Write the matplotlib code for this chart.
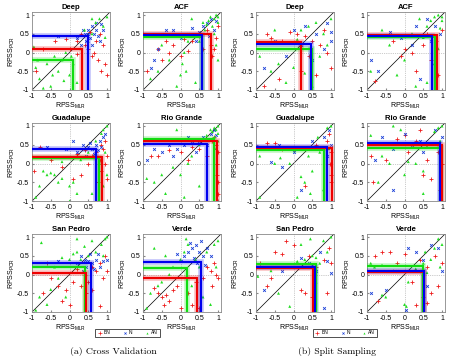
import numpy as np
import matplotlib
matplotlib.use("Agg")
import matplotlib.pyplot as plt
from matplotlib.lines import Line2D

plt.rcParams['font.family'] = ['Liberation Sans', 'DejaVu Sans']
plt.rcParams['mathtext.fontset'] = 'custom'
plt.rcParams['mathtext.rm'] = 'Liberation Sans'

basins = ["Deep", "ACF", "Guadalupe", "Rio Grande", "San Pedro", "Verde"]
cats = ["BN", "N", "AN"]

# ---- threshold lines (horizontal level on PCR, vertical level on MLR) ----
# cross validation
cv_lines = {
    "Deep":       {"BN": (0.10, 0.33), "N": (0.45, 0.50), "AN": (-0.20, 0.10)},
    "ACF":        {"BN": (0.50, 0.82), "N": (0.47, 0.58), "AN": (0.42, 0.56)},
    "Guadalupe":  {"BN": (0.18, 0.86), "N": (0.40, 0.70), "AN": (0.15, 0.78)},
    "Rio Grande": {"BN": (0.60, 0.97), "N": (0.53, 0.70), "AN": (0.65, 0.90)},
    "San Pedro":  {"BN": (0.03, 0.45), "N": (0.30, 0.57), "AN": (0.20, 0.40)},
    "Verde":      {"BN": (-0.10, 0.45), "N": (0.33, 0.55), "AN": (0.17, 0.17)},
}
# split sampling
ss_lines = {
    "Deep":       {"BN": (0.27, 0.21), "N": (0.24, 0.46), "AN": (0.09, 0.48)},
    "ACF":        {"BN": (0.46, 0.86), "N": (0.44, 0.74), "AN": (0.41, 0.80)},
    "Guadalupe":  {"BN": (0.42, 1.02), "N": (0.44, 0.88), "AN": (0.37, 0.82)},
    "Rio Grande": {"BN": (0.50, 1.00), "N": (0.54, 0.95), "AN": (0.42, 0.96)},
    "San Pedro":  {"BN": (0.18, 0.52), "N": (0.19, 0.57), "AN": (0.27, 0.60)},
    "Verde":      {"BN": (0.08, 0.53), "N": (0.10, 0.52), "AN": (0.23, 0.50)},
}

# ---- scatter points (RPSS_MLR, RPSS_PCR) ----
deep_cv_bn = [(0.2,0.3),(0.4,0.2),(0.5,0.1),(0.6,-0.1),(0.7,0.3),(0.8,0.5),(0.9,0.2),(0.95,-0.3),(1.0,-0.6),(0.85,-0.5),
              (0.3,0.5),(-0.1,0.35),(-0.4,0.3),(-0.7,0.1),(-0.9,-0.5),(0.0,0.1),(0.55,0.55),(0.65,0.0),(0.75,-0.2),(0.2,-0.05)]
deep_cv_n = [(0.4,0.5),(0.5,0.6),(0.6,0.7),(0.7,0.6),(0.75,0.45),(0.8,0.3),(0.55,0.4),(0.45,0.3),(0.65,0.5),(0.9,0.6),
             (0.35,0.6),(0.2,0.4),(-0.3,0.45),(0.85,0.75),(0.6,0.2),(0.5,0.5),(0.7,0.8),(0.3,0.2)]
deep_cv_an = [(-0.9,-0.4),(-0.8,-0.7),(-0.6,-0.3),(-0.5,-0.9),(-0.3,-0.5),(-0.2,-0.2),(0.0,-0.6),(0.1,-0.3),(-0.7,-0.95),
              (-0.4,-0.1),(0.2,-0.8),(0.3,0.1),(0.5,0.3),(0.6,0.5),(0.7,0.8),(0.8,0.9),(0.9,0.7),(1.0,0.95),(0.95,0.4),
              (0.6,0.9),(-0.1,0.0),(-0.95,0.15),(0.4,0.6),(-0.85,-0.2),(-0.45,-0.6),(-0.15,-0.75),(0.05,-0.1)]

acf_cv_bn = [(-0.9,-0.5),(-0.6,0.1),(-0.5,-0.2),(-0.3,0.0),(-0.2,0.2),(0.0,-0.1),(0.2,0.05),(0.3,0.3),(0.5,0.45),(0.7,0.6),
             (0.8,0.2),(0.85,-0.1),(0.9,0.1),(0.95,0.4),(1.0,0.7),(0.6,0.1),(-0.4,0.3),(0.1,0.35)]
acf_cv_n = [(-0.2,0.6),(-0.4,0.6),(-0.6,0.1),(-0.7,-0.2),(0.0,0.4),(0.2,0.5),(0.5,0.55),(0.6,0.7),(0.7,0.8),(0.8,0.9),
            (0.9,0.6),(0.75,0.45),(0.4,0.3),(-0.8,-0.4),(0.3,0.65),(0.95,0.85)]
acf_cv_an = [(0.0,-0.6),(0.05,-0.3),(0.1,0.0),(-0.1,-0.9),(0.15,-0.5),(-0.3,-0.2),(-0.6,-0.5),(-0.8,-0.7),(0.3,0.9),
             (0.6,0.8),(0.7,0.75),(0.8,0.95),(0.85,0.7),(0.9,0.9),(0.95,1.0),(1.0,0.8),(1.0,0.95),(0.9,0.5),(0.5,0.3),
             (0.4,-0.8),(0.2,0.3),(-0.5,0.2),(0.75,0.85),(0.65,0.6),(0.95,0.2),(1.0,-0.2)]

gua_cv_bn = [(0.7,0.3),(0.8,0.1),(0.85,-0.2),(0.9,0.4),(0.95,0.0),(1.0,-0.4),(1.0,0.2),(0.75,-0.5),(0.6,0.2),(0.5,0.0),
             (0.3,-0.3),(0.1,-0.4),(-0.2,-0.1),(-0.5,0.1),(-0.8,0.45),(0.4,0.35),(0.95,0.6),(0.85,0.5),(0.2,0.25),(-0.95,-0.2)]
gua_cv_n = [(0.6,0.4),(0.7,0.5),(0.8,0.6),(0.9,0.7),(0.75,0.35),(0.5,0.45),(0.35,0.5),(0.1,0.6),(-0.1,0.4),(-0.6,0.45),
            (0.65,0.25),(0.85,0.45),(0.95,0.8),(0.45,0.2),(0.2,0.3),(0.55,0.55)]
gua_cv_an = [(-0.9,-0.9),(-0.7,-0.2),(-0.6,-0.3),(-0.5,-0.25),(-0.4,-0.3),(-0.3,-0.5),(-0.2,-0.4),(0.0,-0.6),(0.1,-0.5),
             (0.2,-0.8),(0.0,-1.0),(0.3,0.1),(0.5,0.3),(0.7,0.6),(0.85,0.8),(0.9,0.9),(1.0,1.0),(0.95,0.3),(1.0,-0.3),
             (0.9,-0.6),(0.6,-0.8),(-0.8,-0.6),(0.8,0.0),(-0.2,0.05)]

rio_cv_bn = [(0.95,0.5),(1.0,0.3),(0.98,0.0),(0.97,-0.3),(1.0,-0.5),(0.9,0.7),(0.85,0.6),(0.6,0.65),(0.5,0.4),(0.3,0.45),
             (-0.8,0.2),(-0.6,0.2),(-0.3,0.35),(0.0,0.3),(0.2,0.1),(0.7,0.2),(1.0,-0.8)]
rio_cv_n = [(-0.9,0.1),(-0.7,0.4),(-0.5,0.3),(-0.3,0.5),(-0.1,0.4),(0.1,0.5),(0.3,0.55),(0.5,0.6),(0.6,0.7),(0.8,0.8),
            (0.9,0.9),(0.7,0.5),(0.4,0.3),(-0.2,0.2),(0.2,0.7),(0.95,0.75)]
rio_cv_an = [(0.9,0.95),(1.0,1.0),(0.95,0.9),(0.85,0.85),(1.0,0.8),(0.9,0.7),(1.0,0.6),(0.8,0.9),(0.7,0.75),(0.5,0.5),
             (0.3,0.2),(0.0,-0.3),(-0.2,-0.1),(-0.5,-0.3),(-0.7,-0.5),(-0.4,-0.8),(0.1,-0.9),(0.5,-0.6),(-0.9,-0.4),
             (0.2,0.0),(-0.1,0.9),(0.95,0.4)]

sp_cv_bn = [(0.4,0.0),(0.5,-0.2),(0.6,-0.4),(0.7,0.1),(0.8,0.3),(0.9,-0.1),(1.0,0.1),(0.45,-0.5),(0.3,-0.3),(0.1,-0.2),
            (-0.1,-0.4),(-0.3,-0.3),(-0.5,-0.1),(-0.7,-0.5),(-0.2,-0.7),(0.0,-0.8),(0.8,-0.85),(0.6,0.2),(0.2,0.15),
            (-0.6,0.3),(0.95,0.5)]
sp_cv_n = [(0.4,0.4),(0.5,0.35),(0.6,0.3),(0.7,0.4),(0.8,0.2),(0.9,0.35),(0.55,0.55),(0.3,0.5),(0.2,0.3),(-0.3,0.35),
           (0.65,0.15),(0.45,0.2),(1.0,0.4),(0.75,0.55),(0.35,0.1)]
sp_cv_an = [(-0.75,0.85),(-0.8,-0.6),(-0.6,-0.8),(-0.5,-0.4),(-0.4,0.2),(-0.2,0.45),(0.0,0.4),(0.1,0.55),(0.2,0.6),
            (0.3,0.4),(0.5,0.5),(0.7,0.6),(0.85,0.8),(0.95,0.95),(1.0,1.0),(0.9,0.5),(0.6,0.9),(-0.3,-0.1),(-0.9,-0.95),
            (0.2,0.95),(-0.1,-0.6),(0.4,0.75)]

ver_cv_bn = [(-0.6,-0.5),(-0.5,-0.6),(-0.4,-0.55),(-0.3,-0.7),(-0.2,-0.4),(-0.45,-0.8),(-0.1,-0.3),(0.0,-0.9),(0.2,-0.5),
             (0.4,-0.2),(0.6,-0.1),(0.8,0.1),(0.9,0.3),(1.0,-0.1),(0.95,0.0),(0.7,0.2),(-0.7,-0.35),(0.3,-0.8),
             (0.85,-0.3),(0.5,-0.9)]
ver_cv_n = [(0.2,0.6),(0.3,0.7),(0.4,0.8),(0.5,0.6),(0.6,0.5),(0.7,0.7),(0.1,0.5),(0.35,0.45),(0.55,0.9),(0.8,0.5),
            (0.0,0.35),(-0.1,0.55),(0.45,0.3),(0.65,0.25),(0.25,0.85)]
ver_cv_an = [(-0.8,-0.5),(-0.6,-0.3),(-0.5,-0.2),(-0.3,0.0),(-0.2,0.2),(0.0,0.4),(0.1,0.6),(0.2,0.8),(0.4,0.4),(0.5,0.2),
             (0.7,0.6),(0.9,0.8),(1.0,0.9),(-0.4,0.5),(-0.7,0.7),(0.3,-0.3),(0.6,-0.6),(0.8,-0.8),(-0.9,-0.9),
             (0.95,0.2),(0.15,0.95)]

deep_ss_bn = [(-0.7,0.5),(-0.6,0.4),(-0.3,0.3),(-0.1,0.55),(0.1,0.5),(0.3,0.45),(0.5,0.3),(0.7,0.2),(0.9,0.0),(1.0,-0.4),
              (0.6,-0.6),(0.2,-0.5),(-0.4,-0.7),(-0.8,-0.9),(0.8,0.6),(0.4,-0.1)]
deep_ss_n = [(-0.8,-0.4),(-0.5,0.3),(0.0,0.6),(0.3,0.7),(0.6,0.5),(0.9,0.8),(1.0,0.3),(0.8,0.1),(0.5,-0.2),(0.2,0.2),
             (-0.2,-0.1),(1.0,0.55)]
deep_ss_an = [(-0.9,-0.1),(-0.6,-0.5),(-0.4,-0.3),(-0.2,-0.8),(0.0,-0.4),(0.2,0.6),(0.4,0.7),(0.6,0.8),(0.8,0.5),
              (1.0,0.9),(0.9,0.2),(0.7,-0.1),(0.5,-0.9),(0.3,-0.55),(-0.5,0.6),(0.1,0.35)]

acf_ss_bn = [(-0.8,-0.75),(-0.3,0.3),(0.0,0.1),(0.2,0.0),(0.3,-0.5),(0.6,0.5),(0.7,-0.2),(0.85,0.3),(0.9,-0.6),(1.0,0.6),
             (0.5,0.2),(-0.1,-0.1)]
acf_ss_n = [(-0.9,-0.2),(-0.7,-0.5),(-0.4,0.55),(-0.1,0.4),(0.3,0.7),(0.6,0.9),(0.8,0.7),(0.95,0.5),(0.4,-0.7),(0.7,0.3),
            (0.2,0.2)]
acf_ss_an = [(-0.9,-0.5),(-0.6,0.6),(-0.4,0.2),(0.0,-0.2),(0.2,0.5),(0.4,0.9),(0.5,0.4),(0.6,0.7),(0.7,0.85),(0.8,0.95),
             (0.9,1.0),(1.0,0.85),(0.95,0.65),(0.85,0.4),(0.75,-0.3),(0.6,-0.8),(0.3,-0.9),(-0.2,-0.6),(0.9,0.1),
             (1.0,0.95)]

gua_ss_bn = [(-0.7,0.55),(-0.5,0.55),(-0.3,0.4),(0.0,0.35),(0.3,-0.6),(0.6,0.5),(0.9,0.6),(1.0,0.3),(0.98,0.0),
             (1.0,-0.3),(0.95,0.8),(1.0,-0.5)]
gua_ss_n = [(-0.6,0.05),(-0.3,-0.1),(0.0,0.3),(0.2,-0.7),(0.5,0.6),(0.8,0.7),(0.95,0.9),(1.0,0.5),(0.9,0.2),(-0.4,0.5)]
gua_ss_an = [(-0.9,0.2),(-0.9,-0.9),(-0.5,0.0),(-0.35,0.15),(-0.1,0.0),(0.1,-0.9),(0.3,-0.5),(0.4,0.2),(0.5,-0.2),
             (0.7,0.3),(0.8,-0.7),(0.9,0.95),(1.0,1.0),(0.95,0.4),(0.65,0.7),(0.2,-0.35),(0.45,-0.8)]

rio_ss_bn = [(-0.9,0.2),(-0.85,-0.5),(-0.5,0.1),(-0.2,0.65),(0.0,0.75),(0.1,0.3),(0.3,0.6),(0.5,-0.3),(0.7,-0.4),
             (0.9,0.3),(1.0,0.0),(0.95,-0.7),(0.6,0.1),(0.4,0.9)]
rio_ss_n = [(-0.8,0.1),(-0.6,0.7),(-0.3,0.4),(0.0,0.8),(0.2,0.5),(0.4,0.6),(0.6,0.55),(0.8,0.9),(1.0,0.7),(-0.3,-0.7),
            (0.5,0.3)]
rio_ss_an = [(-0.9,0.75),(-0.7,-0.5),(-0.6,0.2),(-0.4,0.0),(-0.3,1.0),(-0.1,0.9),(0.1,0.05),(0.3,0.0),(0.5,-0.2),
             (0.6,0.45),(0.8,0.85),(0.9,0.95),(1.0,1.0),(0.95,0.6),(0.5,-0.8),(0.0,-0.3)]

sp_ss_bn = [(-0.9,0.3),(-0.7,-0.3),(-0.5,0.6),(-0.3,0.55),(-0.2,0.9),(0.0,0.8),(0.2,-0.4),(0.3,-0.5),(0.4,0.5),(0.6,0.2),
            (0.8,0.4),(0.9,-0.5),(1.0,0.3),(0.95,0.7),(0.5,-0.6),(-0.6,-0.1)]
sp_ss_n = [(-0.8,-0.4),(-0.3,0.1),(0.0,0.2),(0.2,0.45),(0.4,0.3),(0.6,0.1),(0.7,0.6),(0.9,0.35),(1.0,0.05),(0.8,-0.9),
           (0.5,0.25)]
sp_ss_an = [(-0.95,-0.05),(-0.6,0.1),(-0.4,-0.5),(-0.1,-0.85),(0.1,0.35),(0.3,0.4),(0.5,0.5),(0.6,0.45),(0.8,0.9),
            (1.0,1.0),(0.9,0.6),(0.7,0.3),(0.2,0.8),(0.6,-0.2),(0.45,0.95)]

ver_ss_bn = [(-0.8,0.5),(-0.6,0.6),(-0.4,0.6),(-0.2,0.3),(0.0,0.55),(0.2,-0.2),(0.4,0.4),(0.6,0.2),(0.8,0.5),(1.0,0.3),
             (0.9,-0.3),(0.7,-0.5),(0.5,-0.6),(-0.7,-0.7),(0.3,-0.8),(0.6,-0.75)]
ver_ss_n = [(-0.9,-0.5),(-0.5,-0.4),(-0.2,0.1),(0.1,0.7),(0.3,0.6),(0.5,0.4),(0.7,0.8),(0.9,0.7),(1.0,0.1),(0.6,-0.3),
            (0.05,-0.95)]
ver_ss_an = [(-0.9,0.3),(-0.8,0.2),(-0.6,0.25),(-0.5,-0.6),(-0.3,0.1),(0.0,-0.8),(0.05,-0.85),(0.1,-0.2),(0.3,0.15),
             (0.5,0.3),(0.6,0.05),(0.7,0.4),(0.8,0.7),(1.0,0.8),(0.9,0.95),(0.55,0.6),(0.95,0.2),(-0.6,-0.55)]

cv_points = {
    "Deep": (deep_cv_bn, deep_cv_n, deep_cv_an), "ACF": (acf_cv_bn, acf_cv_n, acf_cv_an),
    "Guadalupe": (gua_cv_bn, gua_cv_n, gua_cv_an), "Rio Grande": (rio_cv_bn, rio_cv_n, rio_cv_an),
    "San Pedro": (sp_cv_bn, sp_cv_n, sp_cv_an), "Verde": (ver_cv_bn, ver_cv_n, ver_cv_an),
}
ss_points = {
    "Deep": (deep_ss_bn, deep_ss_n, deep_ss_an), "ACF": (acf_ss_bn, acf_ss_n, acf_ss_an),
    "Guadalupe": (gua_ss_bn, gua_ss_n, gua_ss_an), "Rio Grande": (rio_ss_bn, rio_ss_n, rio_ss_an),
    "San Pedro": (sp_ss_bn, sp_ss_n, sp_ss_an), "Verde": (ver_ss_bn, ver_ss_n, ver_ss_an),
}

colors = {"BN": "#ee1c1c", "N": "#1a3fd8", "AN": "#22dd22"}
line_colors = {"BN": "#ee0000", "N": "#0000ee", "AN": "#11dd11"}
markers = {"BN": "+", "N": "x", "AN": "^"}
msize = {"BN": 8, "N": 4, "AN": 4.5}

fig = plt.figure(figsize=(4.5, 3.62), dpi=100)
W, H = 450.0, 362.0
lefts = [[32, 143], [256, 367]]
tops = [12, 123, 234]
aw, ah = 78, 78

def draw_panel(ax, name, pts, lines):
    lo, hi = -1, 1.08
    ax.plot([lo, hi], [lo, hi], color="black", lw=0.5, zorder=1)
    ax.axvline(0, color="#999999", lw=0.5, ls=":", zorder=1)
    ax.axhline(0, color="#999999", lw=0.5, ls=":", zorder=1)
    for c, p in zip(cats, pts):
        p = np.array(p)
        if c == "AN":
            ax.scatter(p[:, 0], p[:, 1], marker="^", s=msize[c], facecolor=colors[c],
                       edgecolor="none", zorder=2)
        else:
            ax.scatter(p[:, 0], p[:, 1], marker=markers[c], s=msize[c], color=colors[c],
                       linewidths=0.6, zorder=2)
    for c in ["AN", "BN", "N"]:
        h, v = lines[name][c]
        ax.plot([lo, v, v], [h, h, lo], color=line_colors[c], lw=4, alpha=0.25,
                solid_joinstyle="miter", zorder=3)
        ax.plot([lo, v, v], [h, h, lo], color=line_colors[c], lw=1.5,
                solid_joinstyle="miter", zorder=4)
    ax.set_xlim(lo, hi)
    ax.set_ylim(lo, hi)
    ax.set_xticks([-1, -0.5, 0, 0.5, 1])
    ax.set_yticks([-1, -0.5, 0, 0.5, 1])
    ax.set_xticklabels(["-1", "-0.5", "0", "0.5", "1"])
    ax.set_yticklabels(["-1", "-0.5", "0", "0.5", "1"])
    ax.tick_params(labelsize=5, length=1.5, direction="in", pad=2, color="#888888")
    for s in ax.spines.values():
        s.set_color("#888888")
        s.set_linewidth(0.6)
    ax.set_title(name, fontsize=5.5, fontweight="bold", pad=2)
    ax.set_xlabel(r"RPSS$_{\mathrm{MLR}}$", fontsize=5, labelpad=1)
    ax.set_ylabel(r"RPSS$_{\mathrm{PCR}}$", fontsize=5, labelpad=0)

for g, (pts_all, lines) in enumerate([(cv_points, cv_lines), (ss_points, ss_lines)]):
    for i, name in enumerate(basins):
        r, cidx = divmod(i, 2)
        x0 = lefts[g][cidx]
        y0 = tops[r]
        ax = fig.add_axes([x0 / W, 1 - (y0 + ah) / H, aw / W, ah / H])
        draw_panel(ax, name, pts_all[name], lines)

handles = [
    Line2D([], [], marker="+", ls="none", color=colors["BN"], ms=2.5, mew=0.5),
    Line2D([], [], marker="x", ls="none", color=colors["N"], ms=1.5, mew=0.5),
    Line2D([], [], marker="^", ls="none", color=colors["AN"], ms=1.5, mec="none"),
]
for cx in [127.5 / W, 345 / W]:
    fig.legend(handles, cats, ncol=3, fontsize=3.5, loc="center",
               bbox_to_anchor=(cx, 1 - 333 / H), frameon=True, fancybox=False,
               edgecolor="black", borderpad=0.4, handletextpad=0.3, columnspacing=2.5,
               handlelength=1.0).get_frame().set_linewidth(0.6)

fig.text(113 / W, 1 - 352 / H, "(a) Cross Validation", fontsize=7, family="cmr10",
         ha="center", va="center")
fig.text(337 / W, 1 - 352 / H, "(b) Split Sampling", fontsize=7, family="cmr10",
         ha="center", va="center")

fig.savefig("out.png", dpi=100)
